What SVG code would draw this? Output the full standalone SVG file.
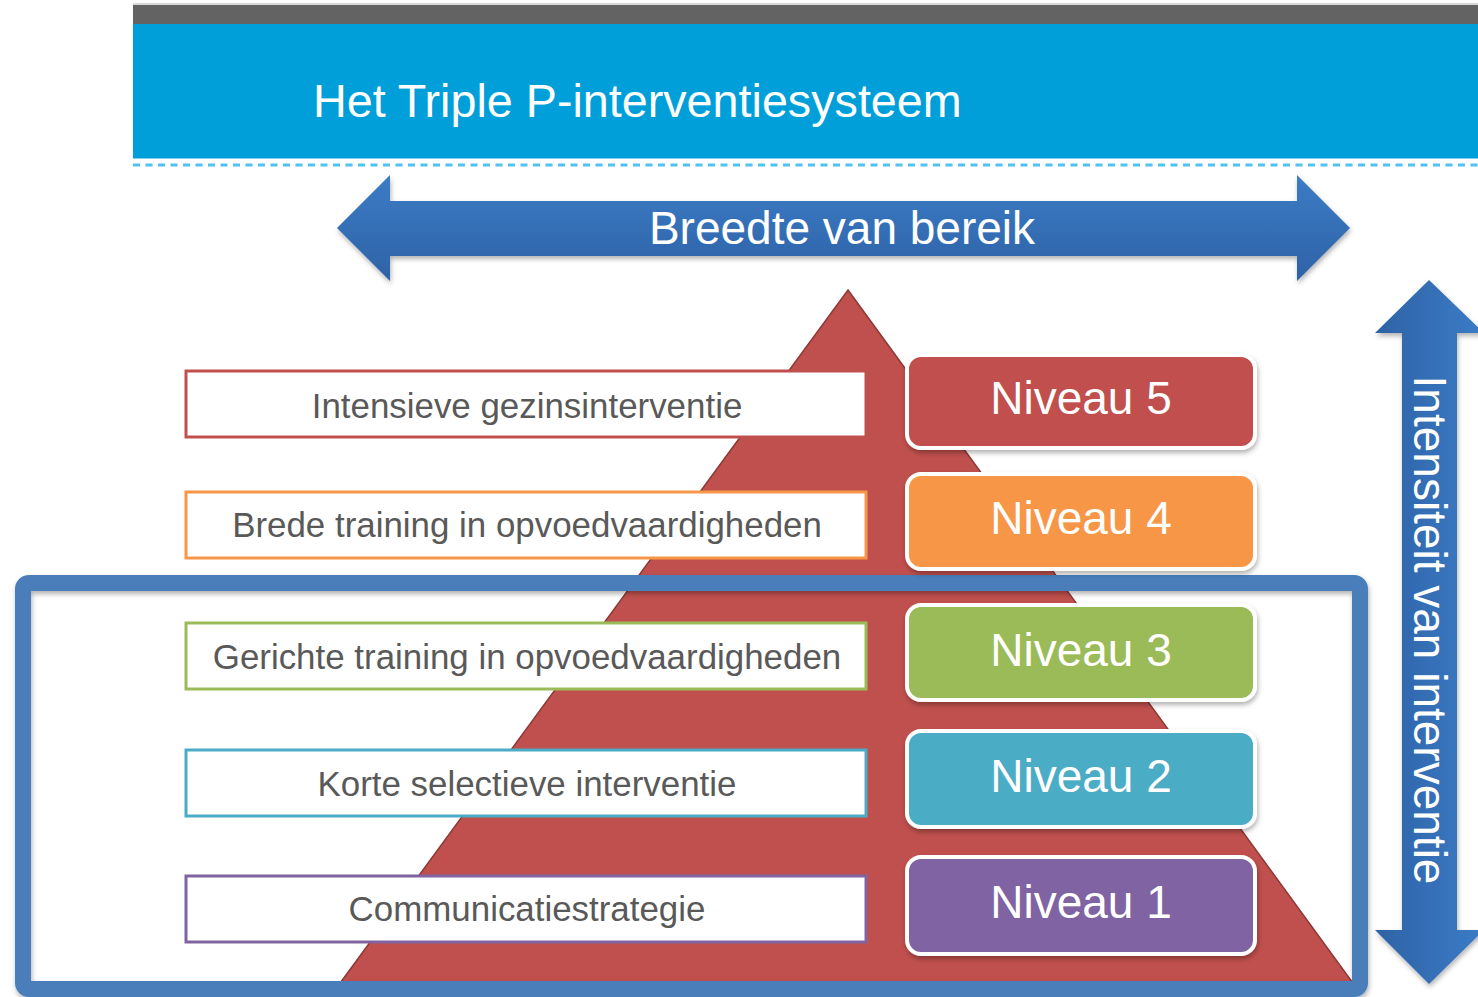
<svg xmlns="http://www.w3.org/2000/svg" width="1478" height="997" viewBox="0 0 1478 997">
<defs>
<linearGradient id="gh" x1="0" y1="0" x2="0" y2="1"><stop offset="0" stop-color="#3B7CC6"/><stop offset="1" stop-color="#2E62A6"/></linearGradient>
<linearGradient id="gv" x1="0" y1="0" x2="1" y2="0"><stop offset="0" stop-color="#2E62A6"/><stop offset="1" stop-color="#3B7CC6"/></linearGradient>
<filter id="sh" x="-10%" y="-10%" width="120%" height="130%"><feDropShadow dx="1" dy="3" stdDeviation="2.5" flood-color="#000" flood-opacity="0.3"/></filter>
<style>
.lbl{fill:#fff;stroke-width:3}
.lt{font-family:"Liberation Sans",Arial,sans-serif;font-size:34.9px;fill:#595959;text-anchor:middle}
.nv{stroke:#fff;stroke-width:4;filter:url(#sh)}
.nt{font-family:"Liberation Sans",Arial,sans-serif;font-size:46px;fill:#fff;text-anchor:middle}
.big{font-family:"Liberation Sans",Arial,sans-serif;font-size:46px;fill:#fff}
</style>
</defs>
<rect x="0" y="0" width="1478" height="997" fill="#fff"/>
<g id="header">
<rect x="133" y="3" width="1345" height="3" fill="#D9D9D9"/>
<rect x="133" y="5" width="1345" height="19" fill="#636363"/>
<rect x="133" y="24" width="1345" height="134" fill="#009FDA"/>
<line x1="133" y1="158.5" x2="1478" y2="158.5" stroke="#7FCFEF" stroke-width="1"/>
<line x1="133" y1="165" x2="1478" y2="165" stroke="#4FC3F0" stroke-width="3" stroke-dasharray="7 5.5"/>
<text class="big" x="313" y="117" style="font-size:46.7px">Het Triple P-interventiesysteem</text>
</g>
<g id="pyramid">
<polygon points="848,290 1358,990 335,990" fill="#C0504D" stroke="#8C3836" stroke-width="1.5"/>
</g>
<g id="highlight">
<rect x="23" y="583" width="1337" height="406" rx="6" fill="none" stroke="#4A7EBB" stroke-width="16" filter="url(#sh)"/>
</g>
<g id="arrow-breedte">
<polygon points="337,228 390,175 390,201 1297,201 1297,175 1350,228 1297,281 1297,256 390,256 390,281" fill="url(#gh)" filter="url(#sh)"/>
<text class="big" x="842" y="244" text-anchor="middle">Breedte van bereik</text>
</g>
<g id="arrow-intensiteit">
<polygon points="1429,280 1484,333 1457,333 1457,930 1484,930 1429,984 1375,930 1402,930 1402,333 1375,333" fill="url(#gv)" filter="url(#sh)"/>
<text class="big" transform="translate(1414,630) rotate(90)" text-anchor="middle">Intensiteit van interventie</text>
</g>
<g id="box-intensieve">
<rect class="lbl" x="186" y="371" width="680" height="66" stroke="#C0504D"/>
<text class="lt" x="527" y="418">Intensieve gezinsinterventie</text>
</g>
<g id="box-brede">
<rect class="lbl" x="186" y="492" width="680" height="66" stroke="#F79646"/>
<text class="lt" x="527" y="537">Brede training in opvoedvaardigheden</text>
</g>
<g id="box-gerichte">
<rect class="lbl" x="186" y="623" width="680" height="66" stroke="#9BBB59"/>
<text class="lt" x="527" y="669">Gerichte training in opvoedvaardigheden</text>
</g>
<g id="box-korte">
<rect class="lbl" x="186" y="750" width="680" height="66" stroke="#4BACC6"/>
<text class="lt" x="527" y="796">Korte selectieve interventie</text>
</g>
<g id="box-communicatie">
<rect class="lbl" x="186" y="876" width="680" height="66" stroke="#8064A2"/>
<text class="lt" x="527" y="921">Communicatiestrategie</text>
</g>
<g id="niveau-5">
<rect class="nv" x="907" y="355" width="348" height="93" rx="14" fill="#C0504D"/>
<text class="nt" x="1081" y="414">Niveau 5</text>
</g>
<g id="niveau-4">
<rect class="nv" x="907" y="474" width="348" height="95" rx="14" fill="#F79646"/>
<text class="nt" x="1081" y="534">Niveau 4</text>
</g>
<g id="niveau-3">
<rect class="nv" x="907" y="605" width="348" height="95" rx="14" fill="#9BBB59"/>
<text class="nt" x="1081" y="666">Niveau 3</text>
</g>
<g id="niveau-2">
<rect class="nv" x="907" y="731" width="348" height="96" rx="14" fill="#4BACC6"/>
<text class="nt" x="1081" y="792">Niveau 2</text>
</g>
<g id="niveau-1">
<rect class="nv" x="907" y="857" width="348" height="97" rx="14" fill="#8064A2"/>
<text class="nt" x="1081" y="918">Niveau 1</text>
</g>
</svg>
